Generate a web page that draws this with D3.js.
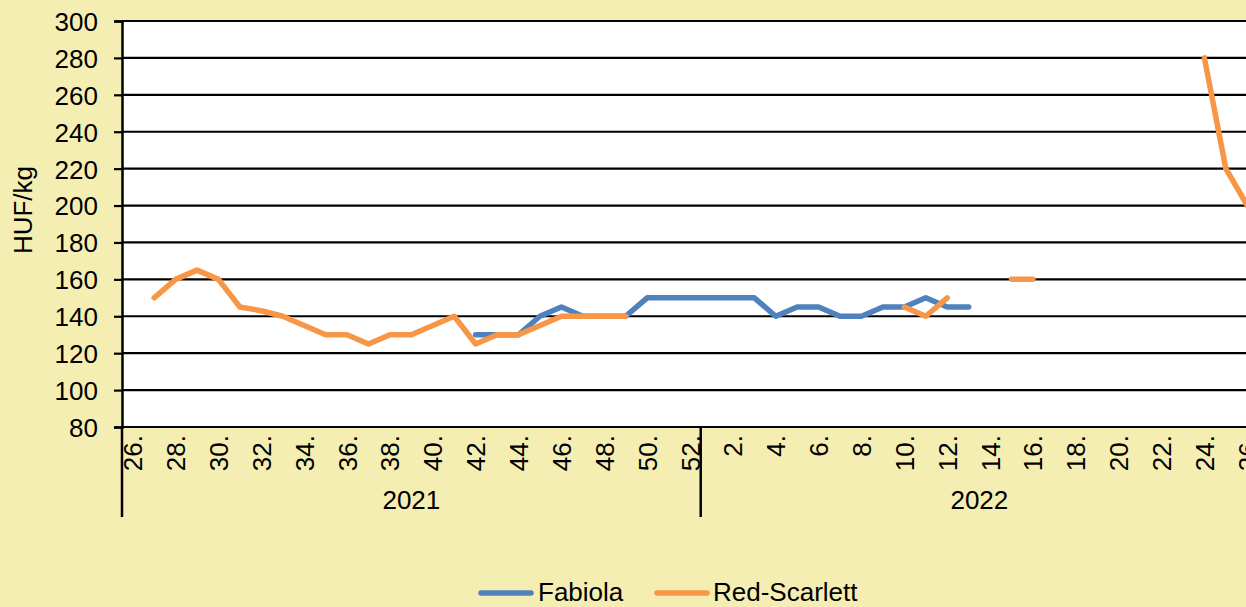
<!DOCTYPE html>
<html><head><meta charset="utf-8">
<script src="https://cdn.jsdelivr.net/npm/d3@7"></script>
<style>
html,body{margin:0;padding:0;background:#F5EEB3;overflow:hidden;}
text{font-family:"Liberation Sans",Arial,sans-serif;fill:#000;}
</style></head>
<body>
<svg id="c" width="1246" height="607"></svg>
<script>
const weeks2021 = [26,27,28,29,30,31,32,33,34,35,36,37,38,39,40,41,42,43,44,45,46,47,48,49,50,51,52];
const weeks2022 = [1,2,3,4,5,6,7,8,9,10,11,12,13,14,15,16,17,18,19,20,21,22,23,24,25,26];
const years = ["2021","2022"];
const yTicks = [80,100,120,140,160,180,200,220,240,260,280,300];
const seriesNames = ["Fabiola","Red-Scarlett"];
// values in category order (2021 wk26..52, then 2022 wk1..26); null = no data
const fabiola = [
  null,null,null,null,null,null,null,null,null,null,null,null,null,null,null,null,
  130,130,130,140,145,140,140,140,150,150,150,
  150,150,150,140,145,145,140,140,145,145,150,145,145,
  null,null,null,null,null,null,null,null,null,null,null,null,null
];
const redScarlett = [
  null,150,160,165,160,145,143,140,135,130,130,125,130,130,135,140,
  125,130,130,135,140,140,140,140,null,null,null,
  null,null,null,null,null,null,null,null,null,145,140,150,null,
  null,160,160,null,null,null,null,null,null,null,280,220,200
];

const cats = weeks2021.map(w => "2021-" + w).concat(weeks2022.map(w => "2022-" + w));
const labels = weeks2021.map(w => w + ".").concat(weeks2022.map(w => w + "."));
const FS = 26;

const svg = d3.select("#c");
const L = 122, R = 1258, T = 21, B = 427;

const x = d3.scaleBand().domain(cats).range([L, R]).padding(0);
const y = d3.scaleLinear().domain([80, 300]).range([B, T]);

// plot background
svg.append("rect").attr("x", L).attr("y", T).attr("width", R - L).attr("height", B - T).attr("fill", "#fff");

// gridlines
svg.append("g").selectAll("line").data(yTicks).join("line")
  .attr("x1", L).attr("x2", R)
  .attr("y1", d => y(d)).attr("y2", d => y(d))
  .attr("stroke", "#000").attr("stroke-width", 2.2);

// y axis
const yAxis = d3.axisLeft(y).tickValues(yTicks).tickSize(8).tickPadding(16);
const ga = svg.append("g").attr("transform", `translate(${L},0)`).call(yAxis);
ga.select(".domain").attr("stroke", "#000").attr("stroke-width", 2.5);
ga.selectAll(".tick line").attr("stroke", "#000").attr("stroke-width", 2.2);
ga.selectAll(".tick text").style("font-size", FS + "px").style("font-family", "Liberation Sans, Arial, sans-serif").attr("fill", "#000").attr("dy", "0.36em");

svg.append("text").attr("transform", "translate(32,210) rotate(-90)")
  .attr("text-anchor", "middle").style("font-size", FS + "px").text("HUF/kg");

// x category labels
svg.append("g").selectAll("text").data(cats.filter((c, i) => i % 2 === 0)).join("text")
  .attr("transform", d => `translate(${x(d) + x.bandwidth() / 2 + 9.5},435) rotate(-90)`)
  .attr("text-anchor", "end").style("font-size", FS + "px")
  .text(d => labels[cats.indexOf(d)]);

// group separators
const sepX = [L, x("2022-1")];
svg.append("g").selectAll("line").data(sepX).join("line")
  .attr("x1", d => d).attr("x2", d => d).attr("y1", B).attr("y2", 517)
  .attr("stroke", "#000").attr("stroke-width", 2.5);

// year labels
const yearMid = [(L + x("2022-1")) / 2, (x("2022-1") + R) / 2];
svg.append("g").selectAll("text").data(years).join("text")
  .attr("x", (d, i) => yearMid[i]).attr("y", 509)
  .attr("text-anchor", "middle").style("font-size", FS + "px").text(d => d);

// lines
const colors = ["#4F81BD", "#F79646"];
const line = d3.line()
  .defined(d => d.v !== null)
  .x(d => x(d.c) + x.bandwidth() / 2)
  .y(d => y(d.v));
[fabiola, redScarlett].forEach((arr, k) => {
  const pts = arr.map((v, i) => ({ c: cats[i], v }));
  svg.append("path").datum(pts).attr("d", line)
    .attr("fill", "none").attr("stroke", colors[k]).attr("stroke-width", 5.5)
    .attr("stroke-linejoin", "round").attr("stroke-linecap", "round");
});

// legend
const leg = [{ x: 481, tx: 538 }, { x: 657, tx: 713 }];
seriesNames.forEach((n, k) => {
  svg.append("line").attr("x1", leg[k].x).attr("x2", leg[k].x + 50)
    .attr("y1", 593).attr("y2", 593).attr("stroke", colors[k]).attr("stroke-width", 5.5)
    .attr("stroke-linecap", "round");
  svg.append("text").attr("x", leg[k].tx).attr("y", 601).style("font-size", FS + "px").text(n);
});
</script>
</body></html>
